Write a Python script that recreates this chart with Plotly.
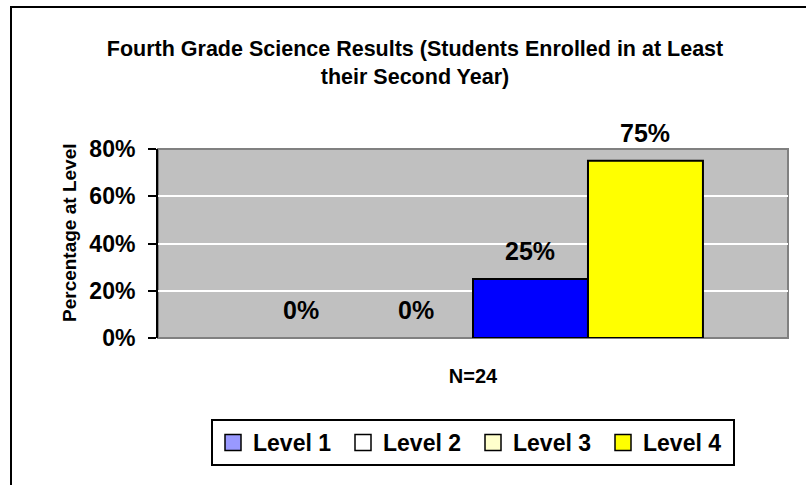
import plotly.graph_objects as go

levels = ["Level 1", "Level 2", "Level 3", "Level 4"]
values = [0.0, 0.0, 0.25, 0.75]
bar_colors = ["#9999FF", "#FFFFFF", "#0000FF", "#FFFF00"]
legend_colors = ["#9999FF", "#FFFFFF", "#FFFFCC", "#FFFF00"]
category = ["N=24"]
y_ticks = [0, 0.2, 0.4, 0.6, 0.8]

FONT = "Liberation Sans, Arial, sans-serif"
W, H = 806, 485
L, R, T, B = 158, 18, 149, 147
PW, PH = W - L - R, H - T - B
BARGAP = 0.27

fig = go.Figure()
for lv, v, c in zip(levels, values, bar_colors):
    fig.add_trace(go.Bar(x=category, y=[v], name=lv,
                         marker=dict(color=c, line=dict(color="black", width=2 if v > 0 else 0)),
                         showlegend=False, hoverinfo="skip"))
for lv, c in zip(levels, legend_colors):
    fig.add_trace(go.Scatter(x=[None], y=[None], name=lv, mode="markers",
                             marker=dict(symbol="square", size=18, color=c, line=dict(color="black", width=1.5)),
                             showlegend=True))

# value labels placed above each bar in the group
n = len(levels)
bw = (1 - BARGAP) / n
for i, v in enumerate(values):
    xc = -(1 - BARGAP) / 2 + (i + 0.5) * bw
    fig.add_annotation(x=xc, y=v, xref="x", yref="y", text="%d%%" % round(v * 100),
                       showarrow=False, yanchor="bottom", yshift=12,
                       font=dict(family=FONT, size=25, color="black", weight="bold"))

def px_x(p):
    return (p - L) / PW

def px_y(p):
    return (H - B - p) / PH

# y-axis title
fig.add_annotation(x=px_x(69), y=px_y(233), xref="paper", yref="paper", text="Percentage at Level",
                   textangle=-90, showarrow=False, xanchor="center", yanchor="middle",
                   font=dict(family=FONT, size=19, color="black", weight="bold"))

# outer chart frame
fig.add_shape(type="rect", xref="paper", yref="paper", x0=px_x(11), x1=px_x(830), y0=px_y(7), y1=px_y(500),
              line=dict(color="black", width=2), fillcolor="rgba(0,0,0,0)", layer="below")
# plot area border
fig.add_shape(type="rect", xref="paper", yref="paper", x0=0, x1=1, y0=0, y1=1,
              line=dict(color="#808080", width=2), fillcolor="rgba(0,0,0,0)", layer="below")

fig.update_layout(
    width=W, height=H,
    margin=dict(l=L, r=R, t=T, b=B, autoexpand=False),
    paper_bgcolor="white", plot_bgcolor="#C0C0C0",
    barmode="group", bargap=BARGAP, bargroupgap=0,
    font=dict(family=FONT, color="black"),
    title=dict(text="Fourth Grade Science Results (Students Enrolled in at Least<br>their Second Year)",
               x=415 / W, xanchor="center", xref="container", y=1 - 56 / H, yanchor="top", yref="container",
               font=dict(family=FONT, size=21.5, color="black", weight="bold")),
    legend=dict(orientation="h", x=0.5, xanchor="center", xref="paper", y=px_y(419), yanchor="top",
                bordercolor="black", borderwidth=2, entrywidth=85,
                font=dict(family=FONT, size=23, color="black", weight="bold"),
                itemclick=False, itemdoubleclick=False, traceorder="normal"),
    showlegend=True,
)
fig.update_xaxes(type="category", showticklabels=False, ticks="", showgrid=False, showline=False,
                 title=dict(text="N=24", font=dict(family=FONT, size=20, color="black", weight="bold"),
                            standoff=30))
fig.update_yaxes(range=[0, 0.8], tickvals=y_ticks, tickformat=".0%", showgrid=True, gridcolor="white", gridwidth=2,
                 showline=True, linecolor="black", linewidth=2, ticks="outside", ticklen=8, tickwidth=2,
                 tickcolor="black", zeroline=False, ticklabelstandoff=8,
                 tickfont=dict(family=FONT, size=23, color="black", weight="bold"))

fig.write_html("out.html", config={"displayModeBar": False},
               post_script="document.body.style.margin='0';document.body.style.overflow='hidden';")
